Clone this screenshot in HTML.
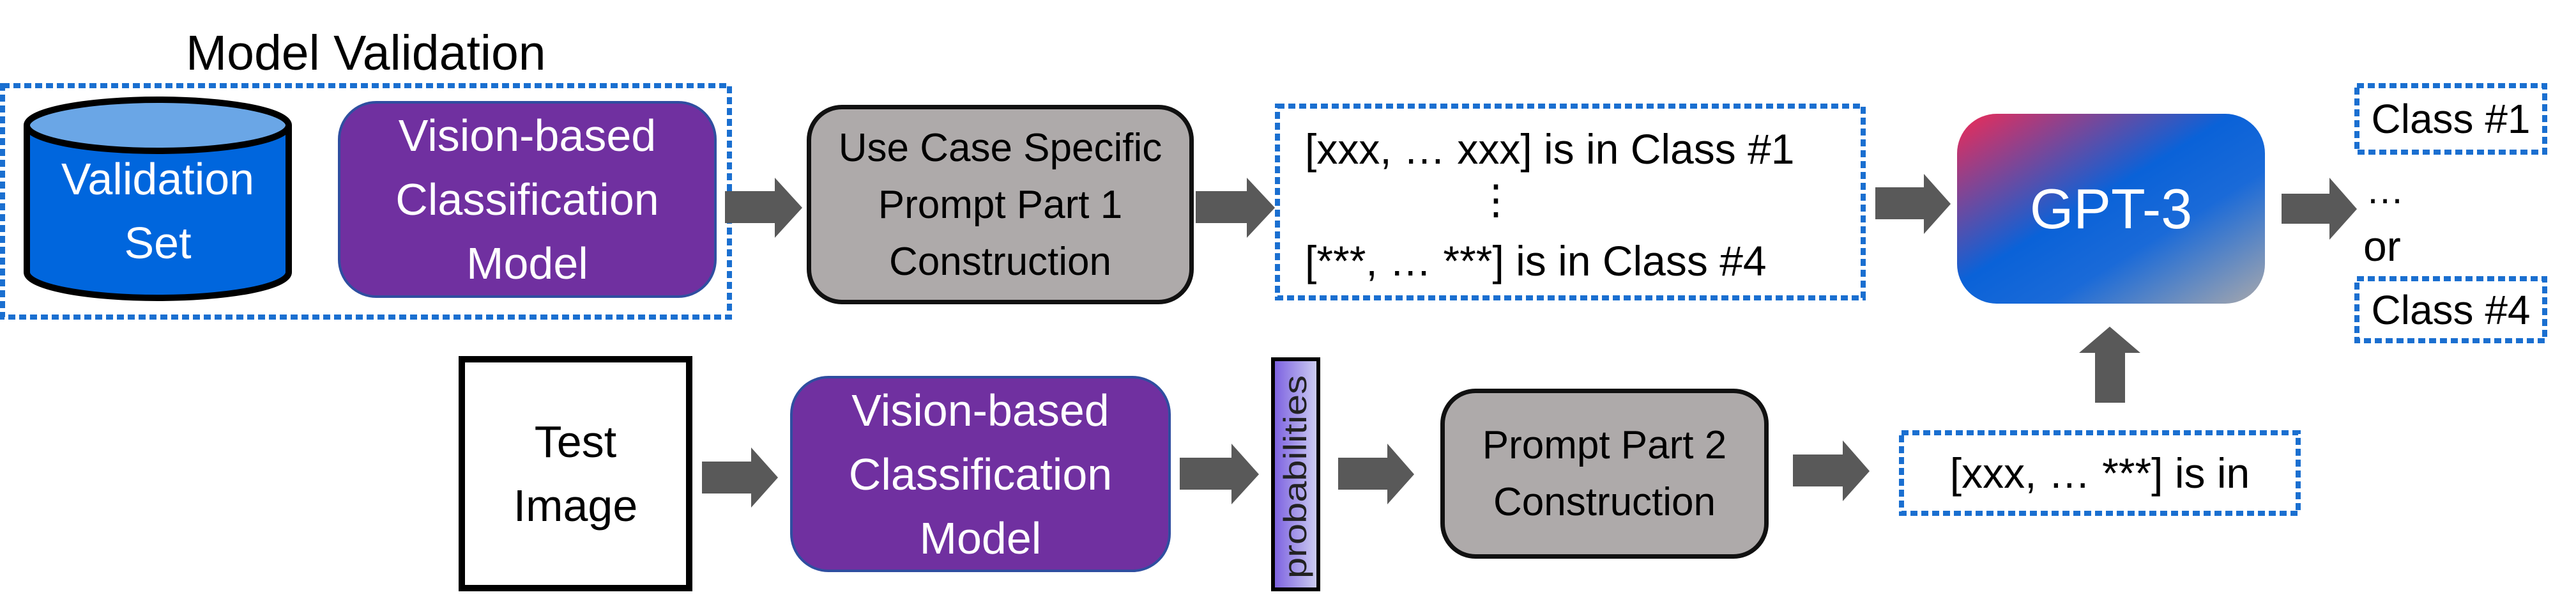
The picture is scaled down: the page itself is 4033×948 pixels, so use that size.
<!DOCTYPE html>
<html><head><meta charset="utf-8"><style>
html,body{margin:0;padding:0;background:#fff;}
body{width:4033px;height:948px;position:relative;overflow:hidden;font-family:"Liberation Sans",sans-serif;}
.a{position:absolute;box-sizing:border-box;}
.c{display:flex;flex-direction:column;align-items:center;justify-content:center;text-align:center;}
.pur{background:#7030a0;border:4px solid #2f4ea0;border-radius:60px;color:#fff;font-size:70px;line-height:100px;}
.gry{background:#aeaaaa;border:7px solid #111;border-radius:55px;color:#000;font-size:62px;line-height:89px;}
</style></head><body>
<div class="a" style="left:291px;top:38px;font-size:77px;line-height:90px;white-space:nowrap;">Model Validation</div>
<svg class="a" style="left:0;top:0" width="4033" height="948">
 <g fill="none" stroke="#1a6fd0" stroke-width="8" stroke-dasharray="11,6">
  <rect x="4" y="134" width="1138" height="362"/>
  <rect x="2000" y="166" width="917" height="300"/>
  <rect x="3690" y="134" width="294" height="104"/>
  <rect x="3690" y="436" width="294" height="97"/>
  <rect x="2977" y="677" width="621" height="126"/>
 </g>
 <g fill="#595959">
  <polygon points="1135,299 1213,299 1213,278 1256,325 1213,372 1213,349 1135,349"/>
  <polygon points="1872,299 1952,299 1952,278 1996,325 1952,372 1952,349 1872,349"/>
  <polygon points="2936,293 3012,293 3012,272 3054,319 3012,366 3012,343 2936,343"/>
  <polygon points="3572,303 3647,303 3647,278 3690,327 3647,375 3647,350 3572,350"/>
  <polygon points="1099,722 1176,722 1176,700 1218,747 1176,794 1176,772 1099,772"/>
  <polygon points="1847,716 1928,716 1928,694 1971,742 1928,789 1928,766 1847,766"/>
  <polygon points="2095,716 2172,716 2172,694 2214,742 2172,789 2172,766 2095,766"/>
  <polygon points="2807,711 2885,711 2885,689 2927,737 2885,784 2885,761 2807,761"/>
  <polygon points="3280,630 3280,552 3255,552 3303,511 3351,552 3327,552 3327,630"/>
 </g>
 <path d="M42,196 L42,426 A205,40 0 0 0 452,426 L452,196" fill="#0066dd" stroke="#000" stroke-width="10"/>
 <ellipse cx="247" cy="196" rx="205" ry="40" fill="#6aa6e6" stroke="#000" stroke-width="10"/>
 <defs>
  <linearGradient id="g" x1="0" y1="0" x2="1" y2="1">
   <stop offset="0" stop-color="#f02a55"/>
   <stop offset="0.45" stop-color="#0a62d8"/>
   <stop offset="0.65" stop-color="#1a6ad8"/>
   <stop offset="1" stop-color="#a8a8ac"/>
  </linearGradient>
  <linearGradient id="p" x1="0" y1="0" x2="1" y2="0">
   <stop offset="0" stop-color="#7a5ee0"/>
   <stop offset="1" stop-color="#cfd0f2"/>
  </linearGradient>
 </defs>
 <rect x="3064" y="178" width="482" height="297" rx="62" fill="url(#g)"/>
 <rect x="1993" y="562" width="71" height="360" fill="url(#p)" stroke="#000" stroke-width="6"/>
 <text transform="translate(2045,905) rotate(-90)" font-family="Liberation Sans,sans-serif" font-size="50" fill="#222" textLength="318" lengthAdjust="spacingAndGlyphs">probabilities</text>
</svg>
<div class="a c" style="left:42px;top:230px;width:410px;color:#fff;font-size:70px;line-height:100px;">Validation<br>Set</div>
<div class="a c pur" style="left:529px;top:158px;width:593px;height:308px;">Vision-based<br>Classification<br>Model</div>
<div class="a c gry" style="left:1263px;top:164px;width:606px;height:312px;">Use Case Specific<br>Prompt Part 1<br>Construction</div>
<div class="a" style="left:2043px;top:193px;font-size:66px;line-height:80px;white-space:nowrap;">[xxx, … xxx] is in Class #1</div>
<div class="a" style="left:2310px;top:272px;font-size:64px;line-height:80px;">&#8942;</div>
<div class="a" style="left:2043px;top:368px;font-size:66px;line-height:80px;white-space:nowrap;">[***, … ***] is in Class #4</div>
<div class="a c" style="left:3064px;top:178px;width:482px;height:297px;color:#fff;font-size:88px;">GPT-3</div>
<div class="a c" style="left:3686px;top:130px;width:302px;height:112px;font-size:64px;">Class #1</div>
<div class="a" style="left:3704px;top:268px;font-size:60px;line-height:60px;">…</div>
<div class="a" style="left:3700px;top:345px;font-size:66px;line-height:80px;">or</div>
<div class="a c" style="left:3686px;top:432px;width:302px;height:105px;font-size:64px;">Class #4</div>
<div class="a c" style="left:718px;top:557px;width:366px;height:368px;border:10px solid #000;font-size:70px;line-height:100px;">Test<br>Image</div>
<div class="a c pur" style="left:1237px;top:588px;width:596px;height:307px;">Vision-based<br>Classification<br>Model</div>
<div class="a c gry" style="left:2255px;top:608px;width:514px;height:266px;">Prompt Part 2<br>Construction</div>
<div class="a c" style="left:2973px;top:673px;width:629px;height:134px;font-size:66px;white-space:nowrap;">[xxx, … ***] is in</div>
</body></html>
